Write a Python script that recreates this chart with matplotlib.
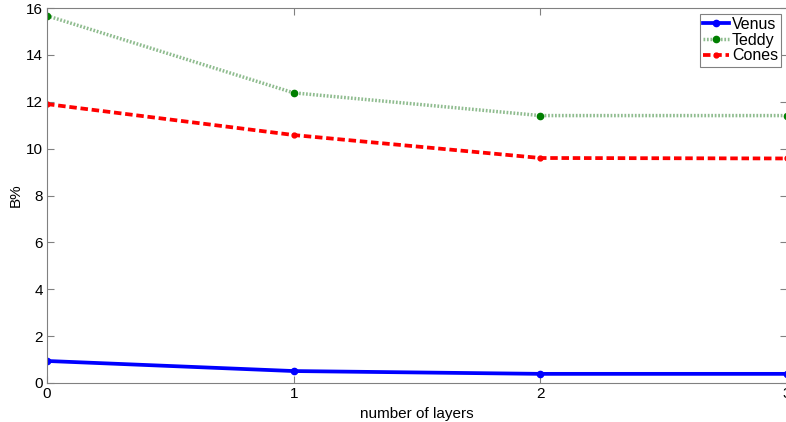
import matplotlib
matplotlib.use('Agg')
import matplotlib.pyplot as plt

plt.rcParams['font.family'] = ['Liberation Sans', 'DejaVu Sans']

# data
layers = [0, 1, 2, 3]
venus = [0.94, 0.51, 0.39, 0.39]
teddy = [15.67, 12.38, 11.41, 11.41]
cones = [11.9, 10.58, 9.6, 9.58]

fig = plt.figure(figsize=(7.86, 4.22), dpi=100)
ax = fig.add_axes([47 / 786, 1 - 383 / 422, 740 / 786, 375 / 422])

ax.plot(layers, venus, color='#0000ff', lw=2.7, marker='o', ms=4.5, label='Venus')
ax.plot(layers, teddy, color='#8fbc8f', lw=2.5, ls=(0, (0.5, 0.5)), marker='o', ms=4.5,
        mfc='#007f00', mec='#007f00', label='Teddy')
ax.plot(layers, cones, color='#ff0000', lw=2.7, ls=(0, (2, 1)), marker='o', ms=3.5, label='Cones')

ax.set_xlim(0, 3)
ax.set_ylim(0, 16)
ax.set_xticks([0, 1, 2, 3])
ax.set_yticks(range(0, 17, 2))
ax.tick_params(direction='in', top=True, right=True, length=5, color='#808080',
               labelsize=11, pad=3)
for s in ax.spines.values():
    s.set_color('#808080')

ax.set_xlabel('number of layers', fontsize=11, labelpad=4)
ax.set_ylabel('B%', fontsize=11, labelpad=2)

leg = ax.legend(loc='upper right', fontsize=11.5, fancybox=False, framealpha=1,
                edgecolor='#808080', handlelength=1.6, handletextpad=0.2,
                borderpad=0.2, labelspacing=0.05, borderaxespad=0.35)
leg.get_frame().set_linewidth(0.8)

fig.savefig('out.png', dpi=100)
